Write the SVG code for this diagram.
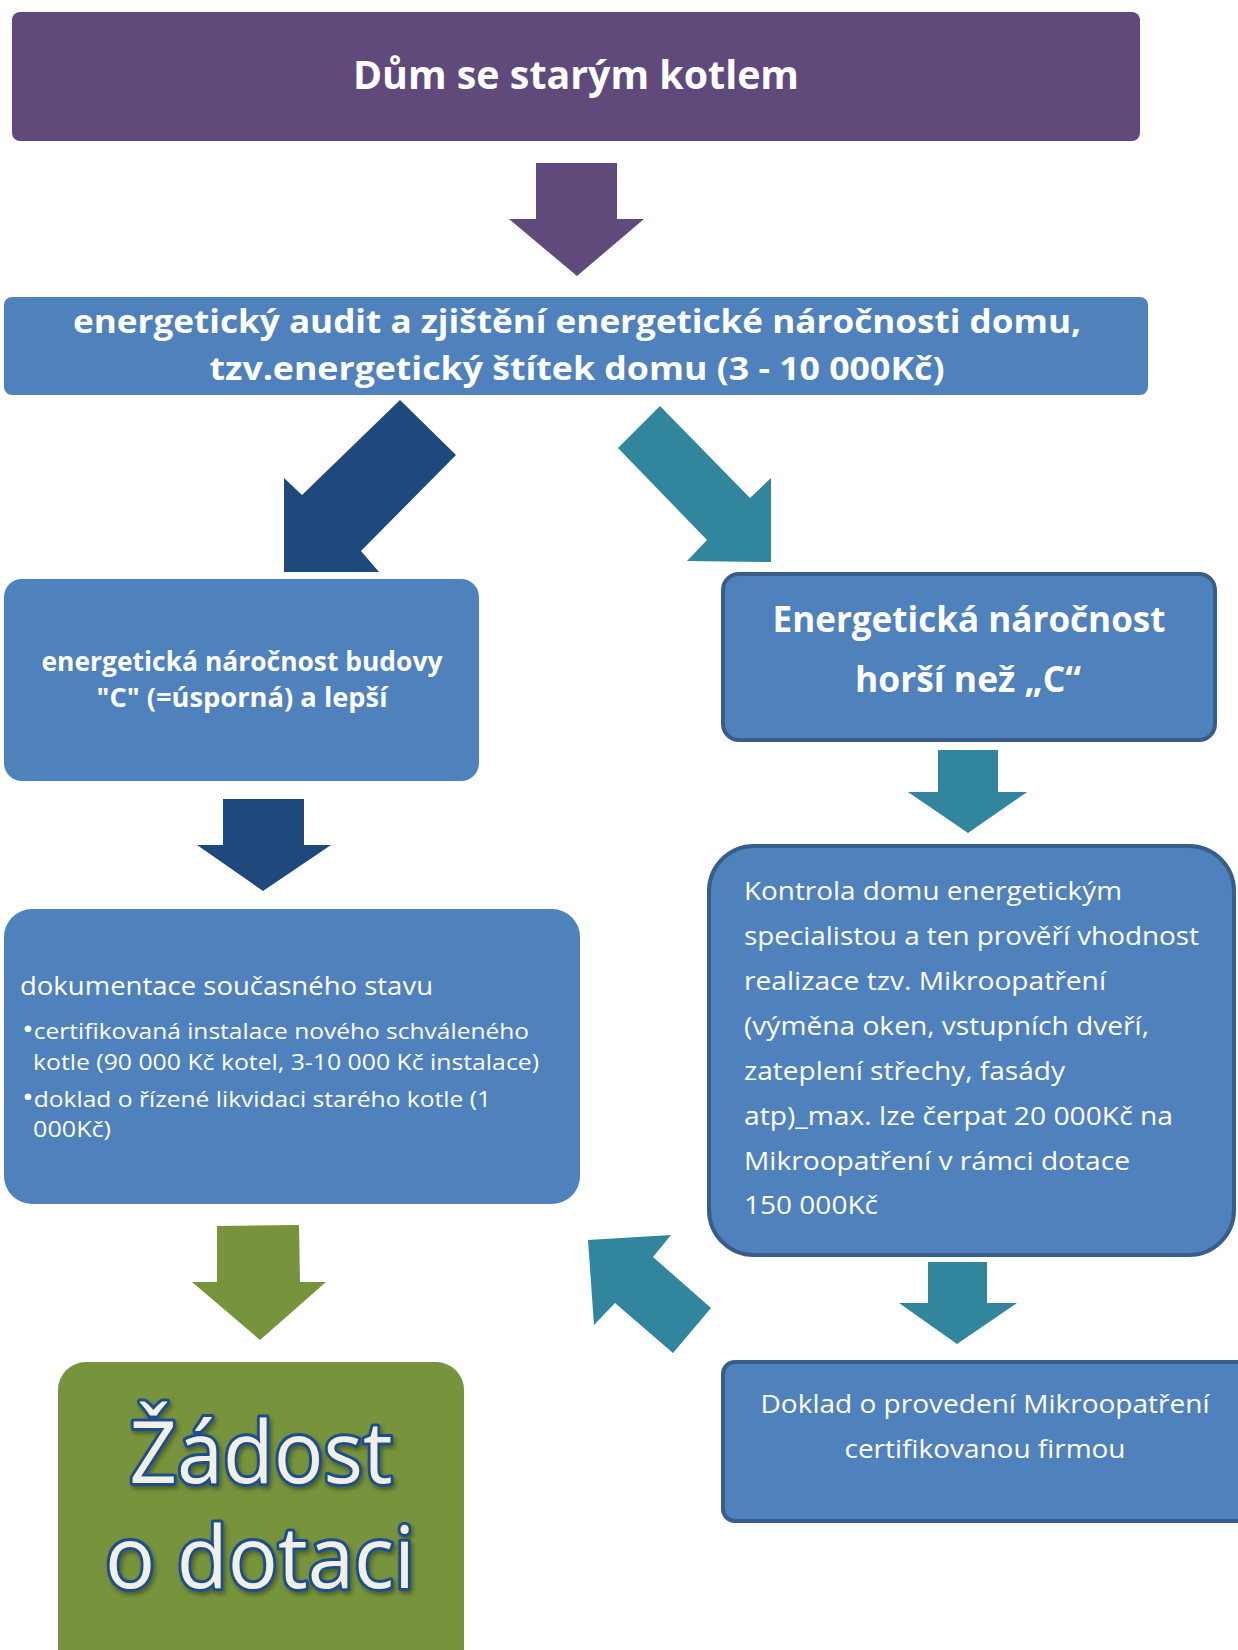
<svg xmlns="http://www.w3.org/2000/svg" width="1238" height="1650" viewBox="0 0 1238 1650">
<defs>
<style>
.t{font-family:"Open Sans","Noto Sans","DejaVu Sans",sans-serif;fill:#ffffff}
.b{font-weight:bold}
.blue{fill:#4F81BD}
.bord{fill:#4F81BD;stroke:#385D8A;stroke-width:4}
.bul{font-size:28px}
.big{font-family:"Open Sans","Noto Sans","DejaVu Sans",sans-serif;font-size:86px;fill:#F2F0E6;stroke:#1F4E8C;stroke-width:6;paint-order:stroke;stroke-linejoin:round;filter:url(#sh)}
</style>
<filter id="sh" x="-10%" y="-10%" width="120%" height="130%">
<feDropShadow dx="2" dy="3" stdDeviation="2" flood-color="#000000" flood-opacity="0.35"/>
</filter>
</defs>
<rect width="1238" height="1650" fill="#ffffff"/>
<g id="connectors">
<polygon fill="#604A7B" points="536,163 617,163 617,219 644,219 577,276 509,219 536,219"/>
<polygon fill="#1F497D" points="400,400 456,455 361,551 379,572 284,572 284,478 302,495"/>
<polygon fill="#31859C" points="660,406 618,448 707,540 687,561 771,562 771,478 750,498"/>
<polygon fill="#1F497D" points="223,799 304,799 304,845 331,845 263,891 197,845 223,845"/>
<polygon fill="#31859C" points="938,750 998,750 998,792 1027,792 968,833 908,792 938,792"/>
<polygon fill="#77933C" points="217,1226 299,1225 300,1282 326,1282 260,1340 192,1282 217,1282"/>
<polygon fill="#31859C" points="588,1240 671,1235 653,1257 711,1308 673,1353 615,1303 594,1325"/>
<polygon fill="#31859C" points="928,1262 987,1262 987,1303 1017,1303 957,1344 899,1303 928,1303"/>
</g>
<g id="n1">
<rect x="12" y="12" width="1128" height="129" rx="8" fill="#604A7B"/>
<text class="t b" x="576" y="89" font-size="40" text-anchor="middle" textLength="446" lengthAdjust="spacingAndGlyphs">Dům se starým kotlem</text>
</g>
<g id="n2">
<rect class="blue" x="4" y="297" width="1144" height="98" rx="8"/>
<text class="t b" x="577" y="333" font-size="33" text-anchor="middle" textLength="1008" lengthAdjust="spacingAndGlyphs">energetický audit a zjištění energetické náročnosti domu,</text>
<text class="t b" x="577" y="380" font-size="33" text-anchor="middle" textLength="735" lengthAdjust="spacingAndGlyphs">tzv.energetický štítek domu (3 - 10 000Kč)</text>
</g>
<g id="n3">
<rect class="blue" x="4" y="579" width="475" height="202" rx="18"/>
<text class="t b" x="242" y="671" font-size="26" text-anchor="middle" textLength="401" lengthAdjust="spacingAndGlyphs">energetická náročnost budovy</text>
<text class="t b" x="242" y="707" font-size="26" text-anchor="middle" textLength="291" lengthAdjust="spacingAndGlyphs">"C" (=úsporná) a lepší</text>
</g>
<g id="n4">
<rect class="bord" x="723" y="574" width="492" height="166" rx="16"/>
<text class="t b" x="969" y="632" font-size="35" text-anchor="middle" textLength="393" lengthAdjust="spacingAndGlyphs">Energetická náročnost</text>
<text class="t b" x="968" y="692" font-size="35" text-anchor="middle" textLength="226" lengthAdjust="spacingAndGlyphs">horší než „C“</text>
</g>
<g id="n5">
<rect class="blue" x="4" y="909" width="576" height="295" rx="28"/>
<text class="t" x="20" y="995" font-size="26" textLength="413" lengthAdjust="spacingAndGlyphs">dokumentace současného stavu</text>
<text class="t" x="22" y="1039" font-size="22" textLength="507" lengthAdjust="spacingAndGlyphs"><tspan class="bul">•</tspan>certifikovaná instalace nového schváleného</text>
<text class="t" x="33" y="1070" font-size="22" textLength="506" lengthAdjust="spacingAndGlyphs">kotle (90 000 Kč kotel, 3-10 000 Kč instalace)</text>
<text class="t" x="22" y="1107" font-size="22" textLength="469" lengthAdjust="spacingAndGlyphs"><tspan class="bul">•</tspan>doklad o řízené likvidaci starého kotle (1</text>
<text class="t" x="33" y="1137" font-size="22" textLength="78" lengthAdjust="spacingAndGlyphs">000Kč)</text>
</g>
<g id="n6">
<rect class="bord" x="709" y="846" width="525" height="409" rx="45"/>
<text class="t" x="744" y="900" font-size="25" textLength="378" lengthAdjust="spacingAndGlyphs">Kontrola domu energetickým</text>
<text class="t" x="744" y="945" font-size="25" textLength="455" lengthAdjust="spacingAndGlyphs">specialistou a ten prověří vhodnost</text>
<text class="t" x="744" y="990" font-size="25" textLength="362" lengthAdjust="spacingAndGlyphs">realizace tzv. Mikroopatření</text>
<text class="t" x="744" y="1035" font-size="25" textLength="405" lengthAdjust="spacingAndGlyphs">(výměna oken, vstupních dveří,</text>
<text class="t" x="744" y="1080" font-size="25" textLength="321" lengthAdjust="spacingAndGlyphs">zateplení střechy, fasády</text>
<text class="t" x="744" y="1125" font-size="25" textLength="429" lengthAdjust="spacingAndGlyphs">atp)_max. lze čerpat 20 000Kč na</text>
<text class="t" x="744" y="1170" font-size="25" textLength="386" lengthAdjust="spacingAndGlyphs">Mikroopatření v rámci dotace</text>
<text class="t" x="744" y="1214" font-size="25" textLength="134" lengthAdjust="spacingAndGlyphs">150 000Kč</text>
</g>
<g id="n7">
<rect class="bord" x="723" y="1362" width="560" height="159" rx="12"/>
<text class="t" x="985" y="1413" font-size="25" text-anchor="middle" textLength="449" lengthAdjust="spacingAndGlyphs">Doklad o provedení Mikroopatření</text>
<text class="t" x="985" y="1458" font-size="25" text-anchor="middle" textLength="281" lengthAdjust="spacingAndGlyphs">certifikovanou firmou</text>
</g>
<g id="n8">
<rect x="58" y="1362" width="406" height="330" rx="28" fill="#77933C"/>
<text class="big" x="261" y="1483" text-anchor="middle" textLength="263" lengthAdjust="spacingAndGlyphs">Žádost</text>
<text class="big" x="260" y="1588" text-anchor="middle" textLength="310" lengthAdjust="spacingAndGlyphs">o dotaci</text>
</g>
</svg>
